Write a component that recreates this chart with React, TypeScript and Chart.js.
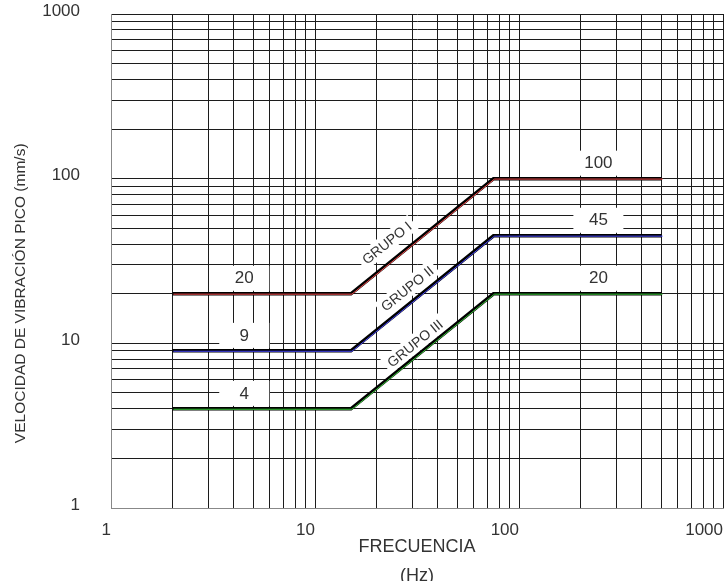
import React, { useEffect, useRef } from 'react';
import { Chart, registerables } from 'chart.js';

Chart.register(...registerables);

// ---- Data ----
const freqGroupI = [2, 15, 75, 500];
const velGroupI = [20, 20, 100, 100];
const freqGroupII = [2, 15, 75, 500];
const velGroupII = [9, 9, 45, 45];
const freqGroupIII = [2, 15, 75, 500];
const velGroupIII = [4, 4, 20, 20];

const groupNames = ['GRUPO I', 'GRUPO II', 'GRUPO III'];
const groupColors = ['#f24b4b', '#4646f5', '#38c838'];
const groupLabelFreqs = [22.5, 28.3, 30.9];
const groupLabelLift = [22, 17, 14];

const leftValueLabels = ['20', '9', '4'];
const leftValues = [20, 9, 4];
const leftLabelFreq = 4.5;
const rightValueLabels = ['100', '45', '20'];
const rightValues = [100, 45, 20];
const rightLabelFreq = 245;

const xTickLabels = [1, 10, 100, 1000];
const yTickLabels = [1, 10, 100, 1000];
const decadeStarts = [1, 10, 100];
const mantissas = [1, 2, 3, 4, 5, 6, 7, 8, 9];

const FONT = '"Liberation Sans", Arial, Helvetica, sans-serif';
const TEXT = '#333333';

const gridValues: number[] = [];
decadeStarts.forEach((d) => mantissas.forEach((m) => gridValues.push(d * m)));
gridValues.push(1000);

const annotationPlugin = {
  id: 'annotations',
  beforeDatasetsDraw(chart: any) {
    const { ctx } = chart;
    const xs = chart.scales.x;
    const ys = chart.scales.y;
    ctx.save();
    ctx.textAlign = 'center';
    ctx.textBaseline = 'middle';
    ctx.font = `17px ${FONT}`;
    const drawValue = (f: number, v: number, t: string) => {
      const px = xs.getPixelForValue(f);
      const py = ys.getPixelForValue(v) - 16;
      ctx.fillStyle = '#ffffff';
      ctx.fillRect(px - 25, py - 12, 50, 25);
      ctx.fillStyle = TEXT;
      ctx.fillText(t, px, py + 1);
    };
    leftValues.forEach((v, i) => drawValue(leftLabelFreq, v, leftValueLabels[i]));
    rightValues.forEach((v, i) => drawValue(rightLabelFreq, v, rightValueLabels[i]));

    ctx.font = `14px ${FONT}`;
    groupNames.forEach((name, i) => {
      const meta = chart.getDatasetMeta(i * 2 + 1);
      const p1 = meta.data[1];
      const p2 = meta.data[2];
      const px = xs.getPixelForValue(groupLabelFreqs[i]);
      const t = (px - p1.x) / (p2.x - p1.x);
      const py = p1.y + t * (p2.y - p1.y) - groupLabelLift[i];
      const ang = Math.atan2(p2.y - p1.y, p2.x - p1.x);
      ctx.save();
      ctx.translate(px, py);
      ctx.rotate(ang);
      const w = ctx.measureText(name).width;
      ctx.fillStyle = '#ffffff';
      ctx.fillRect(-w / 2 - 4, -9, w + 8, 18);
      ctx.fillStyle = TEXT;
      ctx.fillText(name, 0, 1);
      ctx.restore();
    });
    ctx.restore();
  },
  beforeDatasetDraw(chart: any, args: any) {
    const ds = chart.data.datasets[args.index];
    if (ds && ds.shifted) {
      chart.ctx.save();
      chart.ctx.translate(1.0, 0.4);
    }
  },
  afterDatasetDraw(chart: any, args: any) {
    const ds = chart.data.datasets[args.index];
    if (ds && ds.shifted) {
      chart.ctx.restore();
    }
  },
};

export default function App() {
  const ref = useRef<HTMLCanvasElement | null>(null);

  useEffect(() => {
    document.body.style.margin = '0';
    const canvas = ref.current;
    if (!canvas) return;

    const groups = [
      { f: freqGroupI, v: velGroupI },
      { f: freqGroupII, v: velGroupII },
      { f: freqGroupIII, v: velGroupIII },
    ];
    const datasets: any[] = [];
    groups.forEach((g, i) => {
      const pts = g.f.map((f, k) => ({ x: f, y: g.v[k] }));
      datasets.push({
        label: groupNames[i] + ' color',
        data: pts,
        borderColor: groupColors[i],
        borderWidth: 1,
        pointRadius: 0,
        fill: false,
        order: 0,
        shifted: true,
      });
      datasets.push({
        label: groupNames[i],
        data: pts,
        borderColor: '#000000',
        borderWidth: 3.5,
        pointRadius: 0,
        fill: false,
        order: 1,
      });
    });

    const chart = new Chart(canvas, {
      type: 'line',
      data: { datasets },
      plugins: [annotationPlugin],
      options: {
        animation: false,
        responsive: false,
        maintainAspectRatio: false,
        layout: { padding: { top: 14, right: 1, left: 0, bottom: 0 } },
        plugins: { legend: { display: false }, tooltip: { enabled: false } },
        scales: {
          x: {
            type: 'logarithmic',
            min: 1,
            max: 1000,
            afterBuildTicks: (s: any) => {
              s.ticks = gridValues.map((v) => ({ value: v }));
            },
            afterFit: (s: any) => {
              s.height = 73;
              s.paddingLeft = 0;
              s.paddingRight = 0;
            },
            ticks: {
              autoSkip: false,
              maxRotation: 0,
              minRotation: 0,
              align: 'end',
              padding: 12,
              color: TEXT,
              font: { family: FONT, size: 17 },
              callback: (v: any) => (xTickLabels.includes(Number(v)) ? String(v) : ''),
            },
            grid: { color: '#1c1c1c', lineWidth: 1, drawTicks: false },
            border: { color: '#888888', width: 1 },
            title: {
              display: true,
              text: ['FRECUENCIA', '(Hz)'],
              color: TEXT,
              font: { family: FONT, size: 18, lineHeight: '29px' },
              padding: { top: 0, bottom: -10 },
            },
          },
          y: {
            type: 'logarithmic',
            min: 1,
            max: 1000,
            afterBuildTicks: (s: any) => {
              s.ticks = gridValues.map((v) => ({ value: v }));
            },
            afterFit: (s: any) => {
              s.width = 111;
              s.paddingTop = 0;
              s.paddingBottom = 0;
            },
            ticks: {
              autoSkip: false,
              padding: 31,
              labelOffset: -3,
              color: TEXT,
              font: { family: FONT, size: 17 },
              callback: (v: any) => (yTickLabels.includes(Number(v)) ? String(v) : ''),
            },
            grid: { color: '#1c1c1c', lineWidth: 1, drawTicks: false },
            border: { color: '#888888', width: 1 },
            title: {
              display: true,
              text: 'VELOCIDAD DE VIBRACIÓN PICO (mm/s)' + '\u0020'.repeat(15),
              color: TEXT,
              font: { family: FONT, size: 15.5 },
              padding: { top: 11, bottom: 0 },
            },
          },
        },
      } as any,
    });
    return () => chart.destroy();
  }, []);

  return (
    <div style={{ width: 724, height: 581 }}>
      <canvas ref={ref} width={724} height={581} style={{ display: 'block' }} />
    </div>
  );
}
